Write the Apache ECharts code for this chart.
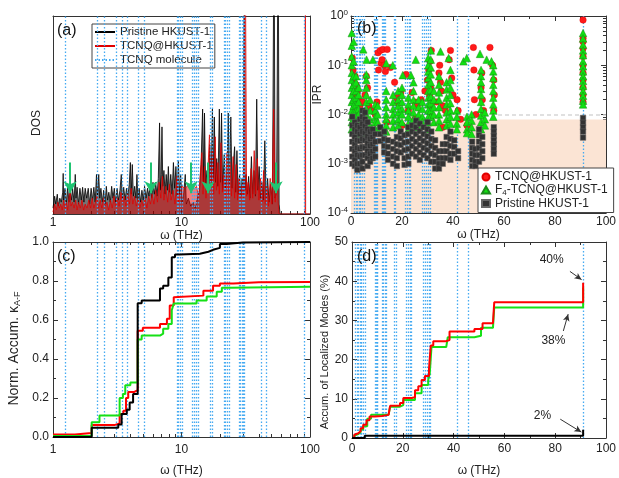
<!DOCTYPE html>
<html><head><meta charset="utf-8">
<script src="https://cdn.jsdelivr.net/npm/echarts@6/dist/echarts.min.js"></script>
<style>html,body{margin:0;padding:0;background:#fff}#c{width:619px;height:478px}</style>
</head><body><div id="c"></div>
<script>
// ---------- DATA ----------
// TCNQ molecule vibrational modes (THz)
const tcnqModes = [1.25, 2.2, 2.5, 3.1, 3.45, 3.75, 4.6, 5.1, 9.2, 9.5, 9.8, 10.1, 12.1, 12.5, 13.0, 13.5, 16.8, 17.3, 21.4, 22.0, 22.8, 23.4, 28.0, 28.7, 29.5, 30.3, 30.9, 41.5, 45.9, 91.0];

// (a) DOS, pristine HKUST-1 [freq THz, DOS a.u.]
const dosPristine = [[1.00,0.3],[1.03,0.9],[1.05,0.5],[1.08,1.0],[1.10,0.4],[1.13,0.8],[1.16,0.6],[1.19,1.1],[1.20,2.05],[1.21,0.7],[1.24,1.3],[1.27,0.5],[1.30,1.4],[1.33,0.6],[1.36,1.2],[1.39,0.7],[1.42,1.3],[1.46,0.6],[1.49,2.0],[1.51,0.8],[1.54,1.35],[1.58,0.5],[1.62,1.3],[1.66,0.7],[1.70,1.35],[1.74,0.6],[1.78,1.3],[1.83,0.8],[1.88,1.3],[1.93,0.5],[1.98,1.3],[2.03,0.7],[2.08,1.35],[2.13,0.6],[2.18,2.0],[2.22,0.9],[2.27,2.0],[2.31,0.8],[2.36,1.3],[2.42,0.6],[2.48,1.2],[2.54,0.5],[2.60,1.4],[2.66,0.7],[2.72,1.1],[2.79,0.6],[2.86,1.4],[2.93,0.8],[3.00,1.3],[3.07,0.6],[3.15,1.3],[3.23,0.7],[3.32,1.2],[3.40,2.0],[3.46,0.8],[3.55,1.35],[3.64,0.7],[3.73,1.3],[3.82,0.9],[3.92,1.5],[4.00,2.6],[4.06,1.0],[4.14,2.5],[4.22,0.9],[4.32,1.4],[4.42,0.8],[4.50,2.0],[4.58,0.7],[4.68,1.3],[4.80,0.6],[4.92,1.2],[5.04,0.7],[5.16,1.4],[5.30,0.8],[5.44,1.3],[5.58,0.9],[5.72,1.5],[5.86,0.8],[6.00,1.6],[6.15,1.0],[6.30,1.6],[6.45,0.9],[6.60,1.8],[6.75,4.6],[6.85,1.2],[6.95,2.0],[7.05,4.4],[7.15,1.4],[7.30,2.2],[7.45,1.0],[7.60,2.0],[7.75,1.2],[7.90,2.4],[8.05,1.1],[8.25,2.0],[8.45,1.0],[8.65,2.6],[8.85,1.3],[9.05,2.4],[9.25,0.9],[9.45,2.7],[9.65,1.0],[9.85,2.0],[10.1,0.6],[10.4,1.0],[10.7,2.0],[10.9,0.5],[11.3,0.8],[11.8,0.4],[12.3,0.6],[12.8,0.3],[13.3,0.8],[13.8,1.2],[14.2,2.5],[14.6,5.3],[14.9,1.6],[15.1,5.1],[15.4,1.4],[15.8,2.2],[16.2,1.2],[16.6,3.5],[17.0,1.5],[17.4,5.3],[17.7,1.8],[18.0,4.9],[18.4,1.6],[18.8,2.8],[19.2,1.4],[19.7,5.3],[20.1,1.6],[20.5,5.1],[20.9,1.2],[21.5,3.0],[22.0,1.3],[22.6,2.2],[23.1,5.1],[23.6,1.5],[24.2,4.9],[24.7,1.3],[25.3,2.5],[25.9,3.4],[26.4,1.1],[27.0,3.2],[27.6,1.0],[28.3,2.0],[29.0,0.9],[29.6,1.8],[30.3,1.0],[30.8,15],[31.2,1.2],[31.8,2.0],[32.5,1.0],[33.3,1.9],[34.1,0.8],[35.0,2.9],[35.8,1.0],[36.7,2.2],[37.6,0.9],[38.5,5.8],[39.3,1.2],[40.2,2.4],[41.1,0.8],[42.2,1.6],[43.3,0.7],[44.5,3.7],[45.6,0.8],[46.8,1.8],[48.0,0.6],[49.5,1.5],[51.0,0.5],[52.5,15],[53.5,0.8],[55.0,1.2],[56.5,15],[57.5,0.5],[58.5,0],[100,0]];

// (a) DOS, TCNQ@HKUST-1
const dosTcnq = [[1.00,0.1],[1.03,0.5],[1.06,0.2],[1.09,0.6],[1.12,0.3],[1.15,0.5],[1.18,0.2],[1.21,0.7],[1.24,0.3],[1.27,0.6],[1.30,0.2],[1.33,0.8],[1.36,1.4],[1.38,0.4],[1.42,0.6],[1.46,0.3],[1.50,0.7],[1.54,0.2],[1.58,0.6],[1.63,0.3],[1.68,0.7],[1.73,0.2],[1.78,0.5],[1.84,0.3],[1.90,0.7],[1.96,0.3],[2.02,0.8],[2.08,0.3],[2.14,0.6],[2.20,0.9],[2.26,0.3],[2.33,0.7],[2.40,0.3],[2.47,0.8],[2.55,0.4],[2.63,0.6],[2.71,0.2],[2.80,0.7],[2.89,0.3],[2.98,0.9],[3.07,0.4],[3.17,0.8],[3.27,0.4],[3.38,1.1],[3.48,0.5],[3.58,0.9],[3.70,0.4],[3.82,1.0],[3.94,0.5],[4.06,1.3],[4.18,0.5],[4.31,0.9],[4.45,0.4],[4.59,0.8],[4.74,0.3],[4.90,0.7],[5.05,0.4],[5.21,0.8],[5.38,0.3],[5.55,0.9],[5.73,0.5],[5.91,1.0],[6.10,0.5],[6.30,1.2],[6.50,0.6],[6.70,1.6],[6.90,0.8],[7.10,1.9],[7.30,0.7],[7.55,1.4],[7.80,0.6],[8.05,1.5],[8.30,0.7],[8.60,1.2],[8.90,0.5],[9.20,1.9],[9.50,0.6],[9.80,1.2],[10.1,1.4],[10.6,1.3],[11.1,1.4],[11.6,1.3],[12.1,1.4],[12.6,1.3],[13.1,1.4],[13.6,0.8],[14.0,2.0],[14.4,3.1],[14.7,1.0],[15.1,2.4],[15.5,0.8],[16.0,2.0],[16.5,4.0],[16.9,1.2],[17.4,3.2],[17.8,1.0],[18.3,3.9],[18.7,1.2],[19.2,2.6],[19.7,1.0],[20.3,3.6],[20.8,1.1],[21.4,2.0],[22.0,0.8],[22.6,3.1],[23.2,1.0],[23.8,2.6],[24.5,0.9],[25.2,2.9],[25.9,0.8],[26.6,2.5],[27.3,0.7],[28.0,1.8],[28.8,0.7],[29.6,1.5],[30.4,0.8],[31.3,15],[32.1,0.9],[33.0,1.6],[33.9,0.7],[34.8,2.3],[35.8,0.8],[36.8,3.2],[37.8,1.0],[38.9,2.8],[40.0,0.7],[41.2,1.8],[42.4,0.6],[43.6,2.2],[44.9,0.5],[46.2,1.4],[47.5,0.4],[49.0,1.8],[50.5,0.5],[52.2,5.3],[53.6,0.6],[55.2,2.2],[56.5,0.6],[57.5,0],[91.5,0],[92,15],[92.5,0],[100,0]];

// (a) green arrows: frequency, arrow top, arrow tip (DOS units)
const arrowFreqs = [1.36, 5.8, 11.9, 16.1, 54.4];
const arrowTop = 2.6;
const arrowTip = 1.05;

// (b) IPR: columns [freq, [IPR values]]
const iprTcnqCols = [[0.5,[0.14]],[0.8,[0.08]],[1.0,[0.05,0.025]],[1.3,[0.035]],[1.6,[0.06]],[1.8,[0.012]],[2.0,[0.04]],[2.5,[0.03]],[3.0,[0.02,0.006]],[3.5,[0.015]],[4.5,[0.018]],[5.5,[0.025]],[6.0,[0.06]],[6.5,[0.035]],[7.0,[0.015]],[8.0,[0.012]],[9.5,[0.01]],[10.2,[0.018]],[10.6,[0.18]],[10.8,[0.08]],[11.5,[0.2]],[11.8,[0.11]],[12.2,[0.13]],[12.5,[0.21]],[13.0,[0.1]],[13.5,[0.075]],[14.0,[0.007]],[14.2,[0.21]],[15.5,[0.09]],[17.1,[0.045]],[18.0,[0.022]],[18.5,[0.017]],[19.5,[0.028]],[20.0,[0.006]],[21.6,[0.065]],[22.5,[0.012]],[24.0,[0.028]],[25.0,[0.018,0.008]],[26.0,[0.015]],[27.5,[0.02]],[29.0,[0.03]],[30.0,[0.05]],[30.5,[0.08]],[30.8,[0.025]],[31.0,[0.12,0.015]],[31.2,[0.035]],[31.4,[0.009]],[31.5,[0.2]],[33.5,[0.018]],[34.5,[0.07]],[34.8,[0.1]],[35.1,[0.045]],[35.5,[0.03]],[36.0,[0.015,0.0055]],[37.0,[0.012]],[38.5,[0.13]],[39.0,[0.2]],[39.5,[0.055]],[40.0,[0.025]],[41.6,[0.02]],[42.0,[0.012]],[43.0,[0.008]],[45.5,[0.006]],[48.0,[0.23]],[48.2,[0.08]],[48.4,[0.02]],[49.0,[0.01]],[51.0,[0.035]],[51.3,[0.07]],[51.5,[0.02]],[52.0,[0.012]],[54.5,[0.23]],[55.5,[0.1]],[56.0,[0.05,0.012]],[56.2,[0.025]],[91.0,[0.83,0.35,0.3,0.22,0.15,0.1,0.07,0.05,0.035,0.025,0.018]]];

const iprF4Cols = [[0.3,[0.45,0.25,0.15,0.1,0.07,0.05,0.035,0.025,0.018,0.012,0.009,0.007,0.005]],[1.0,[0.3,0.12,0.06,0.04,0.03,0.02,0.015,0.011,0.008,0.006,0.0045]],[2.0,[0.06,0.045,0.03,0.022,0.016,0.012,0.009,0.007,0.005,0.004]],[3.0,[0.035,0.025,0.018,0.013,0.01,0.0075,0.0055,0.004]],[4.8,[0.21]],[6.0,[0.065,0.05,0.035,0.025,0.018,0.013,0.01,0.0075,0.0055,0.004]],[6.1,[0.13]],[7.5,[0.02,0.012,0.008,0.006]],[8.6,[0.13]],[9.5,[0.016,0.012,0.009,0.007,0.005]],[10.5,[0.015,0.01,0.007,0.005]],[13.8,[0.11,0.03,0.02,0.014,0.01,0.008,0.006,0.0045]],[16.4,[0.1]],[16.5,[0.025,0.018,0.013,0.01,0.0075,0.0055]],[18.5,[0.03,0.02,0.015,0.011,0.008,0.006]],[20.0,[0.035,0.025,0.018,0.013,0.01,0.007]],[20.3,[0.063]],[22.5,[0.022,0.016,0.012,0.009,0.0065,0.005]],[23.5,[0.063]],[24.5,[0.045,0.03,0.02,0.015,0.011,0.008,0.006]],[25.4,[0.13]],[26.5,[0.02,0.014,0.01,0.0075,0.0055]],[28.0,[0.018,0.013,0.009,0.007]],[30.3,[0.14,0.1,0.075,0.055,0.04,0.03,0.022,0.016,0.012,0.009,0.007,0.005]],[31.3,[0.2,0.13,0.09,0.065,0.045,0.032,0.023,0.017,0.012,0.009]],[32.5,[0.03,0.02,0.014,0.01,0.007]],[34.5,[0.06,0.04,0.028,0.02,0.014,0.01,0.0075,0.0055]],[35.1,[0.19]],[37.5,[0.045,0.032,0.022,0.016,0.011,0.008,0.006]],[38.3,[0.14]],[39.0,[0.08,0.05,0.035,0.025,0.017,0.012,0.009,0.0065]],[41.5,[0.012,0.009,0.0065,0.005]],[44.1,[0.12]],[45.4,[0.14]],[45.5,[0.009,0.007,0.005,0.0042]],[47.3,[0.01,0.0075,0.0055,0.004]],[50.6,[0.17]],[51.0,[0.08,0.06,0.045,0.033,0.025,0.018,0.013,0.0095,0.007,0.005]],[52.5,[0.011,0.008,0.006]],[53.2,[0.13]],[55.1,[0.12]],[55.8,[0.1,0.075,0.055,0.04,0.03,0.022,0.016,0.012,0.009]],[91.0,[0.45,0.35,0.26,0.2,0.16,0.12,0.095,0.075,0.06,0.048,0.038,0.03,0.024,0.019,0.016]]];

const iprPristineCols = [[0.5,[0.009,0.006,0.004,0.0028,0.002,0.0014,0.001]],[1.5,[0.007,0.005,0.0035,0.0025,0.0018,0.0012,0.0009]],[2.5,[0.006,0.0045,0.003,0.0021,0.0015,0.001,0.00075]],[3.5,[0.008,0.0055,0.004,0.0029,0.002,0.0014,0.001]],[4.5,[0.012,0.009,0.0065,0.0045,0.0032,0.0022,0.0015,0.0011,0.0008]],[5.5,[0.011,0.008,0.0058,0.0042,0.003,0.0021,0.0015]],[6.5,[0.007,0.005,0.0036,0.0026,0.0018,0.0013,0.0009]],[7.5,[0.0045,0.0032,0.0023,0.0016,0.0011]],[8.5,[0.005,0.0035,0.0025,0.0018,0.0013]],[9.5,[0.004,0.0028,0.002,0.0014]],[11.5,[0.0055,0.004,0.0029]],[13.0,[0.0045,0.0032,0.0023,0.0017]],[14.5,[0.003,0.0022,0.0016,0.0012]],[16.5,[0.0028,0.002,0.0014,0.001]],[18.0,[0.0035,0.0025,0.0018,0.0013,0.0009]],[19.5,[0.0045,0.0033,0.0024,0.0017]],[21.0,[0.0038,0.0027,0.0019,0.0013,0.00095]],[22.5,[0.0055,0.004,0.0028,0.002,0.0014,0.001]],[24.0,[0.006,0.0045,0.0032,0.0023,0.0016]],[25.5,[0.0075,0.0055,0.004,0.0028,0.002,0.0014]],[27.0,[0.0065,0.0046,0.0033,0.0024,0.0017,0.0012]],[28.5,[0.0055,0.004,0.0029,0.0021,0.0015]],[30.0,[0.007,0.005,0.0036,0.0026,0.0019,0.0013]],[31.5,[0.0045,0.0032,0.0023,0.0016,0.0011]],[33.0,[0.003,0.0021,0.0015,0.0011,0.0008]],[34.5,[0.0018,0.0013,0.001,0.0008]],[36.0,[0.0025,0.0018,0.0013,0.001]],[37.5,[0.0035,0.0025,0.0018,0.0013]],[39.0,[0.0045,0.0032,0.0023,0.0016,0.0012]],[40.5,[0.003,0.0022,0.0016]],[42.0,[0.0018,0.0013]],[47.5,[0.0028,0.0021,0.0016,0.0012,0.0009]],[48.8,[0.002,0.0015,0.0011,0.0009]],[50.2,[0.005,0.0038,0.0028,0.0021,0.0015,0.0011]],[51.5,[0.0035,0.0025,0.0018,0.0013]],[56.0,[0.0055,0.0045,0.0037,0.003,0.0025,0.002,0.0016]],[91.0,[0.0085,0.0068,0.0055,0.0045,0.0034]]];

const iprThreshold = 0.0079;

// (c) normalized accumulated kappa_A-F (step data [freq, value])
const kappaPristine = [[1,0],[2.0,0.047],[3.22,0.064],[3.42,0.118],[3.75,0.14],[3.95,0.177],[4.2,0.22],[4.56,0.686],[4.9,0.70],[6.8,0.762],[7.2,0.776],[7.9,0.818],[8.4,0.922],[8.9,0.936],[9.6,0.94],[13.9,0.95],[16.2,0.96],[17.6,0.97],[19.9,0.99],[22.4,0.997],[30,1.0],[100,1.0]];
const kappaTcnq = [[1,0.013],[1.48,0.02],[2.0,0.062],[3.04,0.07],[3.3,0.118],[3.53,0.135],[3.7,0.20],[3.85,0.231],[4.3,0.24],[4.56,0.545],[5.0,0.56],[6.8,0.58],[7.7,0.607],[8.1,0.675],[8.7,0.717],[9.0,0.725],[14.8,0.75],[17.6,0.776],[19.9,0.787],[25.3,0.793],[40,0.795],[100,0.795]];
const kappaF4 = [[1,0.005],[2.0,0.076],[2.3,0.11],[3.3,0.20],[3.5,0.22],[3.65,0.265],[4.0,0.28],[4.56,0.50],[4.9,0.52],[6.8,0.53],[7.2,0.555],[7.9,0.58],[8.4,0.65],[8.7,0.685],[13.1,0.70],[15.7,0.72],[18.8,0.745],[20.6,0.765],[23.8,0.77],[100,0.77]];

// (d) accumulated localized modes (%)
const locTcnq = [[0,0],[0.9,0.84],[1.6,1.2],[2.5,1.7],[3.4,2.5],[4.4,3.4],[5.7,4.5],[6.9,5.5],[9,5.6],[11.8,5.9],[14.4,6.3],[15,8.2],[17,8.3],[18.9,8.9],[20.2,10.2],[23.5,10.4],[24.8,12.2],[26.1,13.2],[27.4,14.8],[28.7,15.8],[30.3,17.5],[31,23.6],[32,24.7],[37.1,25],[38.4,27.2],[48.2,27.8],[51.4,29.3],[55.5,29.8],[56,34.6],[91,39.6]];
const locF4 = [[0,0],[0.9,0.6],[1.6,1.0],[2.5,1.5],[3.4,2.2],[4.4,3.0],[6.0,4.9],[7.5,5.9],[14.4,5.9],[15,8.0],[18.9,8.4],[20.2,9.7],[23.5,9.7],[24.8,11.4],[27.4,13.5],[30.0,14.8],[30.6,16.4],[31.3,23.2],[37.1,23.6],[37.7,25.7],[48.2,26.1],[50.8,28.1],[55.5,28.4],[56,33.3],[91,38.4]];
const locPristine = [[0,0],[5,0.6],[91,2.1]];

// (d) annotations: [label, text position, arrow start, arrow end]
const locNotes = [
  ['40%', [78.6,45.5], [85.8,42.5], [90.4,40.4]],
  ['38%', [79.3,24.7], [83.2,27.3], [85.1,31.6]],
  ['2%',  [75.0,5.8],  [82.0,4.8],  [90.3,1.5]]
];

// ---------- CHART ----------
const FONT = 'Liberation Sans, Arial, sans-serif';
const BLUE = '#45aaf2';
const chart = echarts.init(document.getElementById('c'), null, {renderer: 'canvas'});
const flatCols = cols => cols.flatMap(([f, vs]) => vs.map(v => [f, v]));

const axBase = (extra) => Object.assign({
  axisLine: {show: true, onZero: false, lineStyle: {color: '#333', width: 1}},
  axisTick: {show: true, inside: true, length: 5, lineStyle: {color: '#333'}},
  splitLine: {show: false},
  axisLabel: {color: '#222', fontSize: 12, fontFamily: FONT},
  nameTextStyle: {color: '#222', fontSize: 12, fontFamily: FONT}
}, extra);
const mirror = (extra) => axBase(Object.assign({axisLabel: {show: false}}, extra));
const minor = (n) => ({show: true, splitNumber: n, length: 3, lineStyle: {color: '#333'}});

const grids = [
  {left: 53, top: 16, width: 257, height: 198},
  {left: 351, top: 16, width: 258, height: 197},
  {left: 53, top: 242, width: 257, height: 198},
  {left: 352, top: 242, width: 257, height: 198}
];

const logX = {type: 'log', logBase: 10, min: 1, max: 100};
const linX = {type: 'value', min: 0, max: 100, interval: 20};

const xAxis = [
  axBase(Object.assign({gridIndex: 0, name: 'ω (THz)', nameLocation: 'middle', nameGap: 13,
    minorTick: minor(9), axisLabel: {color: '#222', fontSize: 12, fontFamily: FONT, margin: 3}}, logX)),
  mirror(Object.assign({gridIndex: 0, position: 'top', axisTick: {show: false}}, logX)),
  axBase(Object.assign({gridIndex: 1, name: 'ω (THz)', nameLocation: 'middle', nameGap: 10,
    minorTick: minor(2), axisLabel: {color: '#222', fontSize: 12, fontFamily: FONT, margin: 3}}, linX)),
  mirror(Object.assign({gridIndex: 1, position: 'top', minorTick: minor(2)}, linX)),
  axBase(Object.assign({gridIndex: 2, name: 'ω (THz)', nameLocation: 'middle', nameGap: 28,
    minorTick: minor(9), axisLabel: {color: '#222', fontSize: 12, fontFamily: FONT, margin: 7}}, logX)),
  mirror(Object.assign({gridIndex: 2, position: 'top', minorTick: minor(9)}, logX)),
  axBase(Object.assign({gridIndex: 3, name: 'ω (THz)', nameLocation: 'middle', nameGap: 27,
    minorTick: minor(2), axisLabel: {color: '#222', fontSize: 12, fontFamily: FONT, margin: 5}}, linX)),
  mirror(Object.assign({gridIndex: 3, position: 'top', minorTick: minor(2)}, linX))
];

const logY = {type: 'log', logBase: 10, min: 0.0001, max: 1};
const yAxis = [
  axBase({gridIndex: 0, type: 'value', min: 0, max: 10, name: 'DOS', nameLocation: 'middle', nameGap: 10,
    nameTextStyle: {color: '#222', fontSize: 12, fontFamily: FONT, padding: [0, 16, 0, 0]},
    axisTick: {show: false}, axisLabel: {show: false}}),
  mirror({gridIndex: 0, type: 'value', min: 0, max: 10, position: 'right', axisTick: {show: false}}),
  axBase(Object.assign({gridIndex: 1, name: 'IPR', nameLocation: 'middle', nameGap: 27,
    nameTextStyle: {color: '#222', fontSize: 12, fontFamily: FONT, padding: [0, 0, 0, 40]},
    minorTick: minor(9),
    axisLabel: {color: '#222', fontSize: 12, fontFamily: FONT, margin: 3,
      formatter: v => '10{sup|' + Math.round(Math.log10(v)) + '}',
      rich: {sup: {fontSize: 8, fontFamily: FONT, verticalAlign: 'top', padding: [0, 0, 6, 0]}}}}, logY)),
  mirror(Object.assign({gridIndex: 1, position: 'right', minorTick: minor(9)}, logY)),
  axBase({gridIndex: 2, type: 'value', min: 0, max: 1, interval: 0.2, name: 'Norm. Accum. κ{sub|A-F}', nameLocation: 'middle', nameGap: 31,
    nameTextStyle: {color: '#222', fontSize: 14, fontFamily: FONT, padding: [0, 18, 0, 0],
      rich: {sub: {fontSize: 9, fontFamily: FONT, verticalAlign: 'bottom', padding: [6, 0, 0, 0]}}},
    minorTick: minor(2),
    axisLabel: {color: '#222', fontSize: 12, fontFamily: FONT, margin: 4, formatter: v => v.toFixed(1)}}),
  mirror({gridIndex: 2, type: 'value', min: 0, max: 1, interval: 0.2, position: 'right', minorTick: minor(2)}),
  axBase({gridIndex: 3, type: 'value', min: 0, max: 50, interval: 10, name: 'Accum. of Localized Modes (%)', nameLocation: 'middle', nameGap: 21,
    nameTextStyle: {color: '#222', fontSize: 11, fontFamily: FONT, padding: [0, 24, 0, 0]},
    minorTick: minor(2),
    axisLabel: {color: '#222', fontSize: 12, fontFamily: FONT, margin: 4}}),
  mirror({gridIndex: 3, type: 'value', min: 0, max: 50, interval: 10, position: 'right', minorTick: minor(2)})
];

const blueLines = (xi, yi, name, z) => ({
  name: name, type: 'line', xAxisIndex: xi, yAxisIndex: yi, data: [], symbol: 'none', z: z,
  lineStyle: {color: BLUE, type: [1.5, 2], width: 1.3}, itemStyle: {color: BLUE},
  markLine: {silent: true, symbol: 'none', animation: false, label: {show: false}, z: z,
    lineStyle: {color: BLUE, type: [1.5, 2], width: 1.3},
    data: tcnqModes.map(f => ({xAxis: f}))}
});

const stepLine = (name, xi, yi, data, color, z) => ({
  name: name, type: 'line', xAxisIndex: xi, yAxisIndex: yi, data: data, step: 'end', symbol: 'none', z: z,
  lineStyle: {color: color, width: 2}, itemStyle: {color: color}
});

const series = [
  // (a)
  {name: 'Pristine HKUST-1', type: 'line', xAxisIndex: 0, yAxisIndex: 0, data: dosPristine, symbol: 'none', z: 2,
   lineStyle: {color: '#000', width: 0.8}, itemStyle: {color: '#000'}, areaStyle: {color: 'rgba(0,0,0,0.78)', origin: 'start'}},
  {name: 'TCNQ@HKUST-1', type: 'line', xAxisIndex: 0, yAxisIndex: 0, data: dosTcnq, symbol: 'none', z: 3,
   lineStyle: {color: '#e00000', width: 0.8}, itemStyle: {color: '#ff2020'}, areaStyle: {color: 'rgba(225,0,0,0.72)', origin: 'start'}},
  blueLines(0, 0, 'TCNQ molecule', 4),
  {name: 'arrows-a', type: 'line', xAxisIndex: 0, yAxisIndex: 0, data: [], z: 6,
   markLine: {silent: true, animation: false, z: 6, symbol: ['none', 'arrow'], symbolSize: [10, 12], label: {show: false},
     lineStyle: {color: '#1fc472', width: 2, type: 'solid'},
     data: arrowFreqs.map(f => [{coord: [f, arrowTop]}, {coord: [f, arrowTip]}])}},
  // (b)
  {name: 'shade-b', type: 'line', xAxisIndex: 2, yAxisIndex: 2, data: [], z: 1,
   markArea: {silent: true, animation: false, z: 1, itemStyle: {color: '#fbe4d4'},
     data: [[{yAxis: 0.0001}, {yAxis: iprThreshold}]]},
   markLine: {silent: true, animation: false, z: 1, symbol: 'none', label: {show: false},
     lineStyle: {color: '#d6d6d6', type: [4, 3], width: 1.5}, data: [{yAxis: iprThreshold}]}},
  blueLines(2, 2, 'modes-b', 2),
  {name: 'TCNQ@HKUST-1 (IPR)', type: 'scatter', xAxisIndex: 2, yAxisIndex: 2, data: flatCols(iprTcnqCols), z: 3,
   symbol: 'circle', symbolSize: 6.5, itemStyle: {color: '#ff1a1a', borderColor: '#e00000', borderWidth: 0.4, opacity: 1}},
  {name: 'F4-TCNQ@HKUST-1', type: 'scatter', xAxisIndex: 2, yAxisIndex: 2, data: flatCols(iprF4Cols), z: 4,
   symbol: 'triangle', symbolSize: 7.5, itemStyle: {color: '#11e011', borderColor: '#1a8a1a', borderWidth: 0.5, opacity: 1}},
  {name: 'Pristine HKUST-1 (IPR)', type: 'scatter', xAxisIndex: 2, yAxisIndex: 2, data: flatCols(iprPristineCols), z: 5,
   symbol: 'rect', symbolSize: 5.5, itemStyle: {color: '#333333', borderColor: '#666', borderWidth: 0.5, opacity: 1}},
  // (c)
  blueLines(4, 4, 'modes-c', 2),
  stepLine('kc-red', 4, 4, kappaTcnq, '#ff0000', 3),
  stepLine('kc-green', 4, 4, kappaF4, '#16e016', 4),
  stepLine('kc-black', 4, 4, kappaPristine, '#000000', 5),
  // (d)
  blueLines(6, 6, 'modes-d', 2),
  stepLine('ld-green', 6, 6, locF4, '#16e016', 3),
  stepLine('ld-red', 6, 6, locTcnq, '#ff0000', 4),
  stepLine('ld-black', 6, 6, locPristine, '#000000', 5),
  {name: 'notes-d', type: 'line', xAxisIndex: 6, yAxisIndex: 6, data: [], z: 6,
   markLine: {silent: true, animation: false, z: 6, symbol: ['none', 'arrow'], symbolSize: [5, 7], label: {show: false},
     lineStyle: {color: '#333', width: 1, type: 'solid'},
     data: locNotes.map(n => [{coord: n[2]}, {coord: n[3]}])},
   markPoint: {silent: true, animation: false, z: 6, symbol: 'rect', symbolSize: 1, itemStyle: {color: 'rgba(0,0,0,0)'},
     label: {show: true, position: 'inside', color: '#222', fontSize: 12, fontFamily: FONT, formatter: p => p.name},
     data: locNotes.map(n => ({name: n[0], coord: n[1]}))}}
];

const option = {
  animation: false,
  backgroundColor: '#fff',
  textStyle: {fontFamily: FONT},
  grid: grids,
  xAxis: xAxis,
  yAxis: yAxis,
  legend: [
    {data: ['Pristine HKUST-1', 'TCNQ@HKUST-1', 'TCNQ molecule'], orient: 'vertical', left: 92, top: 24,
     padding: [2, 2, 2, 2], itemGap: 2, itemWidth: 20, itemHeight: 12, borderColor: '#444', borderWidth: 1,
     backgroundColor: '#fff', lineStyle: {width: 2}, selectedMode: false,
     itemStyle: {opacity: 0, color: 'rgba(0,0,0,0)', borderWidth: 0},
     textStyle: {fontSize: 11.5, color: '#222', fontFamily: FONT}},
    {data: [{name: 'TCNQ@HKUST-1 (IPR)', icon: 'circle'}, {name: 'F4-TCNQ@HKUST-1', icon: 'triangle'}, {name: 'Pristine HKUST-1 (IPR)', icon: 'rect'}],
     orient: 'vertical', left: 478, top: 168,
     padding: [3, 6, 3, 3], itemGap: 1, itemWidth: 8, itemHeight: 7, borderColor: '#444', borderWidth: 1,
     backgroundColor: '#fff', selectedMode: false,
     formatter: n => n.replace(' (IPR)', '').replace('F4-', 'F{sub|4}-'),
     textStyle: {fontSize: 12, color: '#222', fontFamily: FONT,
       rich: {sub: {fontSize: 8, fontFamily: FONT, verticalAlign: 'bottom', padding: [5, 0, 0, 0]}}}}
  ],
  graphic: [
    {type: 'text', left: 57, top: 23, z: 100, style: {text: '(a)', fontSize: 16, fill: '#111', fontFamily: FONT}},
    {type: 'text', left: 357, top: 21, z: 100, style: {text: '(b)', fontSize: 16, fill: '#111', fontFamily: FONT}},
    {type: 'text', left: 57, top: 249, z: 100, style: {text: '(c)', fontSize: 16, fill: '#111', fontFamily: FONT}},
    {type: 'text', left: 357, top: 249, z: 100, style: {text: '(d)', fontSize: 16, fill: '#111', fontFamily: FONT}}
  ],
  series: series
};
chart.setOption(option);
</script></body></html>
